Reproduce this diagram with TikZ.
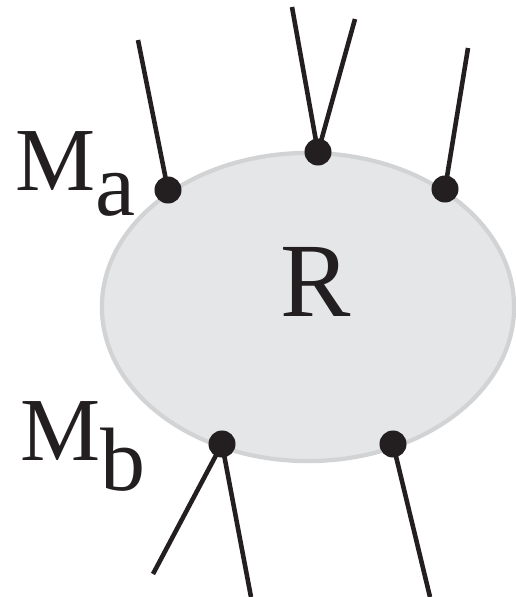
\documentclass[tikz,border=0pt]{standalone}
\usepackage{fontspec}
\setmainfont{Liberation Serif}
\definecolor{regfill}{RGB}{229,230,232}
\definecolor{regline}{RGB}{210,211,213}
\definecolor{ink}{RGB}{35,31,32}
\begin{document}
\begin{tikzpicture}[x=0.01cm, y=-0.01cm,
  every node/.style={text=ink, font=\fontsize{25.6pt}{30pt}\selectfont},
  leg/.style={line width=1.3pt, ink},
  port/.style={circle, fill=ink, inner sep=0pt, minimum size=0.27cm}]
  \useasboundingbox (0,0) rectangle (516,597);
  % region R
  \draw[fill=regfill, draw=regline, line width=1.2pt] (308,307) ellipse [x radius=2.06cm, y radius=1.54cm];
  \node[font=\fontsize{30pt}{36pt}\selectfont] (r) at (316,282) {R};
  % ports on the boundary
  \node[port] (pa) at (168,190) {};
  \node[port] (pt) at (318,152) {};
  \node[port] (pr) at (445,189) {};
  \node[port] (pb) at (222,444) {};
  \node[port] (pc) at (393,444) {};
  % free ends of the legs
  \coordinate (pa1) at (138,40);
  \coordinate (pt1) at (292,7);
  \coordinate (pt2) at (355,19);
  \coordinate (pr1) at (468,48);
  \coordinate (pb1) at (153,574);
  \coordinate (pb2) at (251,597);
  \coordinate (pc1) at (430,597);
  % legs
  \draw[leg] (pa.center) -- (pa1);
  \draw[leg] (pt.center) -- (pt1);
  \draw[leg] (pt.center) -- (pt2);
  \draw[leg] (pr.center) -- (pr1);
  \draw[leg] (pb.center) -- (pb1);
  \draw[leg] (pb.center) -- (pb2);
  \draw[leg] (pc.center) -- (pc1);
  % labels (subscript set at full size, lowered)
  \node[anchor=base west, inner sep=0pt] (ma) at (15,190) {M\raisebox{-0.25cm}{a}};
  \node[anchor=base west, inner sep=0pt] (mb) at (20,460) {M\raisebox{-0.3cm}{b}};
\end{tikzpicture}
\end{document}
